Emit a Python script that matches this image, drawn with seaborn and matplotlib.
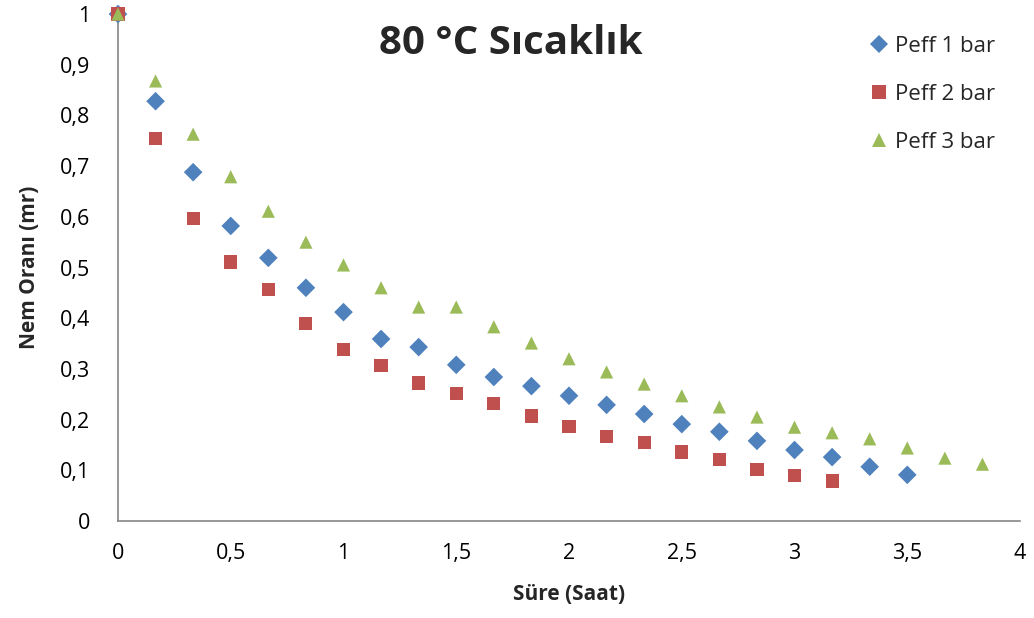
import numpy as np
import pandas as pd
import matplotlib
matplotlib.use("Agg")
import matplotlib.pyplot as plt
import seaborn as sns

# Drying time in hours (10-minute steps)
t_step = 1.0 / 6.0

# Moisture ratio readings per effective pressure
mr_1bar = [1.0, 0.828, 0.688, 0.582, 0.519, 0.460, 0.412, 0.359, 0.343, 0.308,
           0.284, 0.266, 0.247, 0.229, 0.211, 0.191, 0.176, 0.158, 0.140, 0.126,
           0.107, 0.091]
mr_2bar = [1.0, 0.755, 0.596, 0.511, 0.456, 0.389, 0.339, 0.306, 0.272, 0.252,
           0.231, 0.207, 0.187, 0.166, 0.154, 0.136, 0.122, 0.101, 0.089, 0.079]
mr_3bar = [1.0, 0.868, 0.763, 0.679, 0.611, 0.550, 0.505, 0.460, 0.422, 0.422,
           0.383, 0.351, 0.320, 0.294, 0.270, 0.247, 0.225, 0.205, 0.185, 0.174,
           0.162, 0.144, 0.124, 0.112]

series_names = ["Peff 1 bar", "Peff 2 bar", "Peff 3 bar"]
series_values = [mr_1bar, mr_2bar, mr_3bar]
colors = ["#4F81BD", "#C0504D", "#9BBB59"]
markers = ["D", "s", "^"]

x_ticks = [0, 0.5, 1, 1.5, 2, 2.5, 3, 3.5, 4]
x_tick_labels = ["0", "0,5", "1", "1,5", "2", "2,5", "3", "3,5", "4"]
y_ticks = [0, 0.1, 0.2, 0.3, 0.4, 0.5, 0.6, 0.7, 0.8, 0.9, 1.0]
y_tick_labels = ["0", "0,1", "0,2", "0,3", "0,4", "0,5", "0,6", "0,7", "0,8", "0,9", "1"]

frames = []
for name, vals in zip(series_names, series_values):
    vals = np.asarray(vals)
    frames.append(pd.DataFrame({
        "t": np.arange(len(vals)) * t_step,
        "mr": vals,
        "seri": name,
    }))
df = pd.concat(frames, ignore_index=True)

sns.set_theme(style="white")
plt.rcParams["font.family"] = ["Open Sans", "DejaVu Sans"]

fig = plt.figure(figsize=(10.34, 6.18), dpi=100)
ax = fig.add_axes([0.1141, 0.157, 0.8724, 0.8203])

sns.scatterplot(
    data=df, x="t", y="mr", hue="seri", style="seri",
    hue_order=series_names, style_order=series_names,
    palette=colors, markers=markers, s=90, linewidth=0,
    ax=ax, clip_on=False, zorder=3,
)

ax.set_xlim(0, 4)
ax.set_ylim(0, 1)
ax.set_xticks(x_ticks)
ax.set_xticklabels(x_tick_labels)
ax.set_yticks(y_ticks)
ax.set_yticklabels(y_tick_labels)
ax.tick_params(axis="both", length=0, labelsize=15.5, colors="black")
ax.tick_params(axis="x", pad=16)
ax.tick_params(axis="y", pad=20)

for side in ["top", "right"]:
    ax.spines[side].set_visible(False)
for side in ["left", "bottom"]:
    ax.spines[side].set_color("#868686")
    ax.spines[side].set_linewidth(1.2)

ax.set_xlabel("Süre (Saat)", fontsize=15, fontweight="bold", labelpad=14)
ax.set_ylabel("Nem Oranı (mr)", fontsize=15, fontweight="bold", labelpad=14)

fig.text(0.494, 0.93, "80 °C Sıcaklık", fontsize=29, fontweight="bold",
         ha="center", va="center")

handles, labels = ax.get_legend_handles_labels()
leg = ax.legend(handles, labels, loc="upper left", bbox_to_anchor=(0.831, 0.957),
                frameon=False, fontsize=16, labelspacing=1.22,
                handlelength=1.0, handletextpad=0.25,
                borderpad=0, borderaxespad=0, markerscale=1.0)

fig.savefig("out.png", dpi=100)
